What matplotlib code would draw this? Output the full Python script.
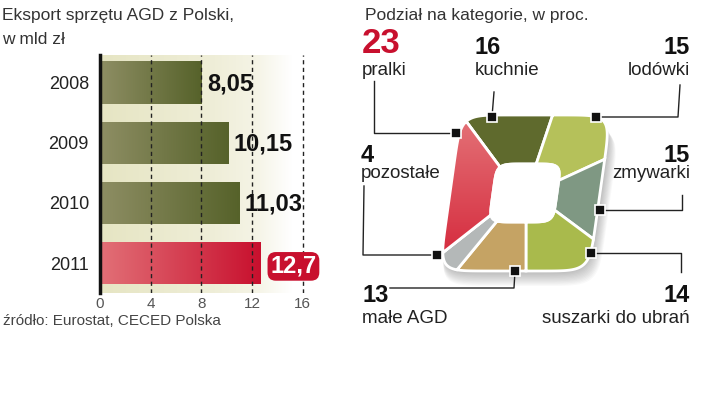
import numpy as np
import matplotlib.pyplot as plt
from matplotlib.colors import LinearSegmentedColormap
from matplotlib.patches import Polygon

# dane - eksport
years = ['2008', '2009', '2010', '2011']
export = [8.05, 10.15, 11.03, 12.7]
export_labels = ['8,05', '10,15', '11,03', '12,7']
xticks = [0, 4, 8, 12, 16]

# dane - kategorie (kolejnosc zgodnie z ruchem wskazowek, od lewego gornego rogu)
categories = ['kuchnie', 'lodówki', 'zmywarki', 'suszarki do ubrań', 'małe AGD', 'pozostałe', 'pralki']
shares = [16, 15, 15, 14, 13, 4, 23]
seg_colors = ['#5f6a2d', '#b5c15a', '#7f9883', '#a9ba4c', '#c5a364', '#b4b8b8', '#dc4552']

BOLD = ['Liberation Sans', 'DejaVu Sans']
REG = ['Liberation Sans', 'DejaVu Sans']

fig = plt.figure(figsize=(7.2, 3.96), dpi=100)

# overlay axes in pixel coords
ov = fig.add_axes([0, 0, 1, 1], zorder=0)
ov.set_xlim(0, 720)
ov.set_ylim(396, 0)
ov.axis('off')

# ---------------- left: bar chart ----------------
ax = fig.add_axes([100/720, 1-293/396, 209/720, 238/396], zorder=2)
ax.set_xlim(0, 16.5)
ax.set_ylim(3.494, -0.456)

bg = LinearSegmentedColormap.from_list('bg', [(0, '#e6e5c3'), (0.55, '#efeed8'), (0.75, '#f5f4e6'), (0.92, '#ffffff'), (1, '#ffffff')])
ax.imshow(np.linspace(0, 1, 256)[None, :], cmap=bg, extent=[0, 16.5, 3.494, -0.456], aspect='auto', zorder=0)

olive = LinearSegmentedColormap.from_list('ol', ['#8e8e64', '#56622a'])
red = LinearSegmentedColormap.from_list('rd', ['#e27077', '#c8102e'])
bars = ax.barh(range(len(years)), export, height=0.7, color='none', zorder=1)
for i, b in enumerate(bars):
    cm = red if i == len(years) - 1 else olive
    im = ax.imshow(np.linspace(0, 1, 256)[None, :], cmap=cm, extent=[0, export[i], i + 0.35, i - 0.35],
                   aspect='auto', zorder=1)
    im.set_clip_path(b)

for x in xticks[1:]:
    ax.axvline(x, color='#222222', lw=1, ls=(0, (3, 2.5)), zorder=3)

for i, v in enumerate(export):
    if i == len(years) - 1:
        ax.text(v + 0.75, i + 0.16, export_labels[i], family=BOLD, fontweight='bold', fontsize=17,
                color='white', va='baseline', ha='left', zorder=5, clip_on=False,
                bbox=dict(boxstyle='round,pad=0.12,rounding_size=0.35', fc='#c8102e', ec='none'))
    else:
        ax.text(v + 0.4, i + 0.13, export_labels[i], family=BOLD, fontweight='bold', fontsize=17,
                color='#111111', va='baseline', ha='left', zorder=5, clip_on=False)

ax.set_yticks(range(len(years)))
ax.set_yticklabels(years, family=REG, fontsize=13, color='#222222')
ax.set_xticks(xticks)
ax.set_xticklabels([str(t) for t in xticks], family=REG, fontsize=11, color='#555555')
ax.tick_params(length=0, axis='y', pad=8)
ax.tick_params(length=0, axis='x', pad=3)
for s in ['top', 'right', 'bottom']:
    ax.spines[s].set_visible(False)
ax.spines['left'].set_linewidth(2.5)
ax.spines['left'].set_color('#111111')
ax.spines['left'].set_zorder(6)

ov.text(2, 20, 'Eksport sprzętu AGD z Polski,', family=REG, fontsize=12.5, color='#333333', va='baseline')
ov.text(2, 44, 'w mld zł', family=REG, fontsize=12.5, color='#333333', va='baseline')
ov.text(3, 325, 'źródło: Eurostat, CECED Polska', family=REG, fontsize=11, color='#444444', va='baseline')

# ---------------- right: skewed rounded-square donut ----------------
ov.text(365, 20, 'Podział na kategorie, w proc.', family=REG, fontsize=12.5, color='#333333', va='baseline')

cx, cy = 525, 193
Rx, Ry = 75, 78
rx, ry = 32, 29
k = 0.14


def sq(theta, a, b, n):
    r = 1.0 / (np.abs(np.cos(theta))**n + np.abs(np.sin(theta))**n)**(1.0/n)
    x = a * r * np.cos(theta)
    y = b * r * np.sin(theta)
    return cx + x + k * y, cy - y


# soft shadow below the shape
t = np.linspace(0, 2*np.pi, 300)
for dy in np.linspace(2, 15, 12):
    xs, ys = sq(t, Rx + dy*0.3, Ry, 7)
    ov.add_patch(Polygon(np.c_[xs + dy*0.3, ys + dy], closed=True, fc='#555555', ec='none', alpha=0.035, zorder=1))

start = np.deg2rad(135)
cum = start
for cat, sh, col in zip(categories, shares, seg_colors):
    a1 = cum
    a2 = cum - sh / sum(shares) * 2 * np.pi
    t = np.linspace(a1, a2, 80)
    xo, yo = sq(t, Rx, Ry, 8)
    xi, yi = sq(t[::-1], rx, ry, 6)
    poly = Polygon(np.c_[np.r_[xo, xi], np.r_[yo, yi]], closed=True, fc=col, ec='white', lw=2, zorder=2)
    ov.add_patch(poly)
    if cat == 'pralki':
        # vertical gradient on the red segment
        gcm = LinearSegmentedColormap.from_list('pr', ['#e47378', '#d42438'])
        im = ov.imshow(np.linspace(0, 1, 256)[:, None], cmap=gcm, aspect='auto', zorder=2.1,
                       extent=[cx - Rx - 20, cx, cy + Ry, cy - Ry])
        im.set_clip_path(poly)
        ov.add_patch(Polygon(poly.get_xy(), closed=True, fc='none', ec='white', lw=2, zorder=2.2))
    cum = a2

ov.set_xlim(0, 720)
ov.set_ylim(396, 0)

# white hole
t = np.linspace(0, 2*np.pi, 200)
xh, yh = sq(t, rx, ry, 6)
ov.add_patch(Polygon(np.c_[xh, yh], closed=True, fc='white', ec='white', lw=2, zorder=3))

# labels: (x, number baseline, name baseline, ha, colour, size)
label_pos = {
    'pralki': (362, 53, 75, 'left', '#c8102e', 25),
    'kuchnie': (475, 54, 75, 'left', '#111111', 17),
    'lodówki': (690, 54, 75, 'right', '#111111', 17),
    'pozostałe': (361, 162, 178, 'left', '#111111', 17),
    'zmywarki': (690, 162, 178, 'right', '#111111', 17),
    'małe AGD': (362, 302, 323, 'left', '#111111', 17),
    'suszarki do ubrań': (690, 302, 323, 'right', '#111111', 17),
}
for cat, sh in zip(categories, shares):
    x, yn, yl, ha, c, fs = label_pos[cat]
    ov.text(x, yn, str(sh), family=BOLD, fontweight='bold', fontsize=fs, color=c, ha=ha, va='baseline', zorder=5)
    ov.text(x, yl, cat, family=REG, fontsize=13.5, color='#222222', ha=ha, va='baseline', zorder=5)

# leader lines
leaders = [
    [(374, 81), (374, 133), (456, 133)],
    [(494, 92), (492, 117)],
    [(680, 85), (678, 117), (596, 117)],
    [(364, 186), (363, 255), (437, 255)],
    [(682, 195), (682, 210), (600, 210)],
    [(681, 272), (681, 253), (591, 253)],
    [(390, 288), (514, 288), (515, 271)],
]
for pts in leaders:
    xs, ys = zip(*pts)
    ov.plot(xs, ys, color='#222222', lw=1, zorder=4)
    ov.plot(xs[-1], ys[-1], marker='s', ms=7, mfc='#111111', mec='white', mew=1.2, zorder=6)

fig.savefig('out.png', dpi=100)
